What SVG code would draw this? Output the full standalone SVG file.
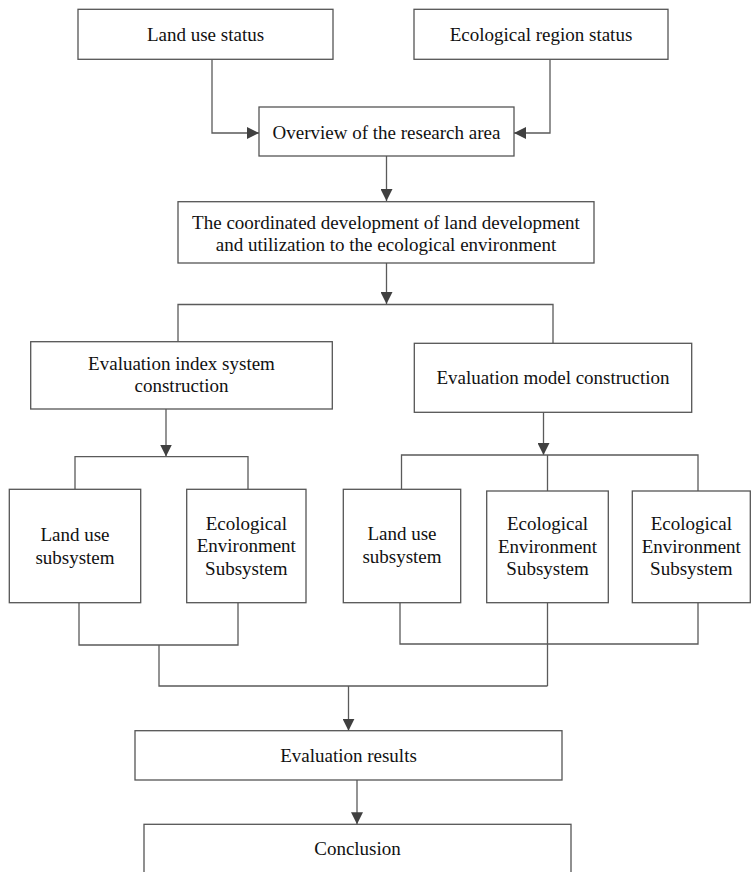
<svg xmlns="http://www.w3.org/2000/svg" width="754" height="872" viewBox="0 0 754 872">
<style>
.box{fill:#fff;stroke:#555;stroke-width:1.3}
.ln{fill:none;stroke:#5a5a5a;stroke-width:1.3}
.t{font-family:"Liberation Serif","Times New Roman",serif;font-size:19px;fill:#111;text-anchor:middle}
</style>
<defs>
<marker id="ah" markerUnits="userSpaceOnUse" markerWidth="12" markerHeight="12" refX="12" refY="6" orient="auto">
<path d="M0,0 L12,6 L0,12 z" fill="#404040"/>
</marker>
</defs>
<rect width="754" height="872" fill="#fff"/>
<g id="connectors">
<path class="ln" d="M212,59.3 V133 H259" marker-end="url(#ah)"/>
<path class="ln" d="M550,59.3 V133 H514" marker-end="url(#ah)"/>
<path class="ln" d="M386.5,156 V201" marker-end="url(#ah)"/>
<path class="ln" d="M386.5,263 V304" marker-end="url(#ah)"/>
<path class="ln" d="M178,341.7 V304.5 H553 V343.3"/>
<path class="ln" d="M166,409 V456.5" marker-end="url(#ah)"/>
<path class="ln" d="M75,489.3 V456.7 H248 V489.3"/>
<path class="ln" d="M543.5,412.3 V455" marker-end="url(#ah)"/>
<path class="ln" d="M401.5,489.3 V455 H698 V491"/>
<path class="ln" d="M547.5,455 V491"/>
<path class="ln" d="M79,602.7 V645 H238 V602.7"/>
<path class="ln" d="M400,602.7 V644 H698 V602.7"/>
<path class="ln" d="M547.5,602.7 V686"/>
<path class="ln" d="M159,645 V686 H547.5"/>
<path class="ln" d="M348.5,686 V730.7" marker-end="url(#ah)"/>
<path class="ln" d="M357,780 V824.3" marker-end="url(#ah)"/>
</g>
<g id="land-use-status">
<rect class="box" x="78" y="9.3" width="255" height="50"/>
<text class="t" x="205.5" y="40.5">Land use status</text>
</g>
<g id="ecological-region-status">
<rect class="box" x="414" y="9.3" width="254" height="50"/>
<text class="t" x="541" y="40.5">Ecological region status</text>
</g>
<g id="overview">
<rect class="box" x="259" y="107" width="255" height="49"/>
<text class="t" x="386.5" y="138.5">Overview of the research area</text>
</g>
<g id="coordinated">
<rect class="box" x="178" y="201.7" width="416" height="61.3"/>
<text class="t" x="386" y="228.5">The coordinated development of land development</text>
<text class="t" x="386" y="250.5">and utilization to the ecological environment</text>
</g>
<g id="eval-index">
<rect class="box" x="30.7" y="341.7" width="301.6" height="67.3"/>
<text class="t" x="181.5" y="369.5">Evaluation index system</text>
<text class="t" x="181.5" y="392">construction</text>
</g>
<g id="eval-model">
<rect class="box" x="414.3" y="343.3" width="277.4" height="69"/>
<text class="t" x="553" y="383.5">Evaluation model construction</text>
</g>
<g id="land-use-subsystem-1">
<rect class="box" x="9.3" y="489.3" width="131.4" height="113.4"/>
<text class="t" x="75" y="541">Land use</text>
<text class="t" x="75" y="563.5">subsystem</text>
</g>
<g id="eco-subsystem-1">
<rect class="box" x="186.7" y="489.3" width="119.3" height="113.4"/>
<text class="t" x="246.3" y="529.5">Ecological</text>
<text class="t" x="246.3" y="552">Environment</text>
<text class="t" x="246.3" y="574.5">Subsystem</text>
</g>
<g id="land-use-subsystem-2">
<rect class="box" x="343.3" y="489.3" width="117.4" height="113.4"/>
<text class="t" x="402" y="540">Land use</text>
<text class="t" x="402" y="563">subsystem</text>
</g>
<g id="eco-subsystem-2">
<rect class="box" x="486.7" y="491" width="121.6" height="111.7"/>
<text class="t" x="547.5" y="529.5">Ecological</text>
<text class="t" x="547.5" y="552.5">Environment</text>
<text class="t" x="547.5" y="575">Subsystem</text>
</g>
<g id="eco-subsystem-3">
<rect class="box" x="632.3" y="491" width="118" height="111.7"/>
<text class="t" x="691.3" y="529.5">Ecological</text>
<text class="t" x="691.3" y="552.5">Environment</text>
<text class="t" x="691.3" y="575">Subsystem</text>
</g>
<g id="evaluation-results">
<rect class="box" x="135" y="730.7" width="427" height="49.3"/>
<text class="t" x="348.5" y="761.5">Evaluation results</text>
</g>
<g id="conclusion">
<rect class="box" x="144" y="824.3" width="427" height="60"/>
<text class="t" x="357.5" y="854.5">Conclusion</text>
</g>
</svg>
